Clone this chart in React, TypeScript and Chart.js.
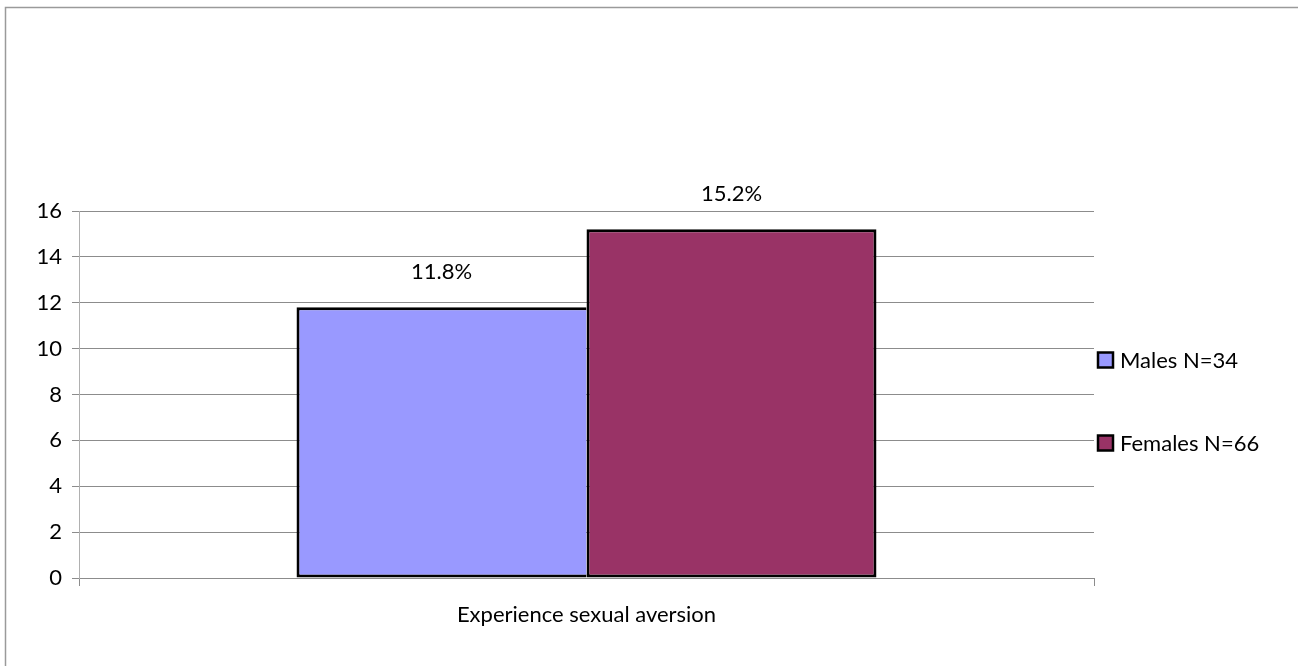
import React, { useEffect, useRef } from "react";
import { Chart, registerables } from "chart.js";

Chart.register(...registerables);

const categories = ["Experience sexual aversion"];
const seriesNames = ["Males N=34", "Females N=66"];
const malesValues = [11.8];
const femalesValues = [15.2];
const seriesColors = ["#9999FF", "#993366"];
const yTicks = [0, 2, 4, 6, 8, 10, 12, 14, 16];

const FONT = "Lato, 'Open Sans', sans-serif";
const FS = 22;

export default function App() {
  const ref = useRef<HTMLCanvasElement | null>(null);

  useEffect(() => {
    document.body.style.margin = "0";
    const canvas = ref.current;
    if (!canvas) return;

    const framePlugin = {
      id: "frame",
      beforeDraw(chart: any) {
        const ctx = chart.ctx;
        ctx.save();
        ctx.fillStyle = "#ffffff";
        ctx.fillRect(0, 0, chart.width, chart.height);
        ctx.strokeStyle = "#9a9a9a";
        ctx.lineWidth = 1.5;
        ctx.strokeRect(5.5, 7.5, chart.width + 20, chart.height + 20);
        ctx.restore();
      },
    };

    const labelPlugin = {
      id: "valueLabels",
      afterDatasetsDraw(chart: any) {
        const ctx = chart.ctx;
        ctx.save();
        ctx.font = `${FS}px ${FONT}`;
        ctx.fillStyle = "#000";
        ctx.textAlign = "center";
        ctx.textBaseline = "middle";
        chart.data.datasets.forEach((ds: any, i: number) => {
          const meta = chart.getDatasetMeta(i);
          meta.data.forEach((bar: any, j: number) => {
            const v = ds.data[j];
            ctx.fillText(v.toFixed(1) + "%", bar.x, bar.y - 35);
          });
        });
        ctx.restore();
      },
    };

    const legendPlugin = {
      id: "customLegend",
      afterDraw(chart: any) {
        const ctx = chart.ctx;
        const area = chart.chartArea;
        ctx.save();
        ctx.font = `${FS}px ${FONT}`;
        ctx.textBaseline = "middle";
        ctx.textAlign = "left";
        const x0 = area.right + 4;
        const yStart = 360;
        const gap = 83;
        chart.data.datasets.forEach((ds: any, i: number) => {
          const y = yStart + i * gap;
          ctx.fillStyle = ds.backgroundColor;
          ctx.fillRect(x0, y - 7.5, 15, 15);
          ctx.strokeStyle = "#000";
          ctx.lineWidth = 2.5;
          ctx.strokeRect(x0, y - 7.5, 15, 15);
          ctx.fillStyle = "#000";
          ctx.fillText(ds.label, x0 + 22, y + 1);
        });
        ctx.restore();
      },
    };

    const chart = new Chart(canvas, {
      type: "bar",
      data: {
        labels: categories,
        datasets: [
          {
            label: seriesNames[0],
            data: malesValues,
            backgroundColor: seriesColors[0],
            borderColor: "#000",
            borderWidth: 3,
            borderSkipped: "right",
          },
          {
            label: seriesNames[1],
            data: femalesValues,
            backgroundColor: seriesColors[1],
            borderColor: "#000",
            borderWidth: 3,
            borderSkipped: false,
          },
        ],
      },
      options: {
        responsive: false,
        animation: false,
        layout: { padding: { top: 211, right: 204, bottom: 0, left: 0 } },
        plugins: {
          legend: { display: false },
          tooltip: { enabled: false },
          title: { display: false },
        },
        datasets: {
          bar: { categoryPercentage: 0.5714, barPercentage: 1.0 },
        },
        scales: {
          x: {
            offset: true,
            grid: {
              offset: true,
              drawOnChartArea: false,
              drawTicks: true,
              tickLength: 8,
              color: "#8c8c8c",
            },
            border: { display: true, color: "#8c8c8c", width: 1 },
            ticks: {
              color: "#000",
              font: { family: FONT, size: FS },
              padding: 16,
            },
            afterFit(scale: any) {
              scale.height = 88;
            },
          },
          y: {
            min: 0,
            max: 16,
            afterBuildTicks(scale: any) {
              scale.ticks = yTicks.map((v) => ({ value: v }));
            },
            grid: {
              color: "#8c8c8c",
              tickLength: 7,
              drawTicks: true,
            },
            border: { display: true, color: "#b0b0b0", width: 1 },
            ticks: {
              color: "#000",
              font: { family: FONT, size: FS },
              padding: 10,
            },
            afterFit(scale: any) {
              scale.width = 79;
            },
          },
        },
      },
      plugins: [framePlugin, labelPlugin, legendPlugin],
    } as any);

    return () => chart.destroy();
  }, []);

  return (
    <div style={{ width: 1298, height: 666, position: "relative" }}>
      <canvas ref={ref} width={1298} height={666} />
    </div>
  );
}
